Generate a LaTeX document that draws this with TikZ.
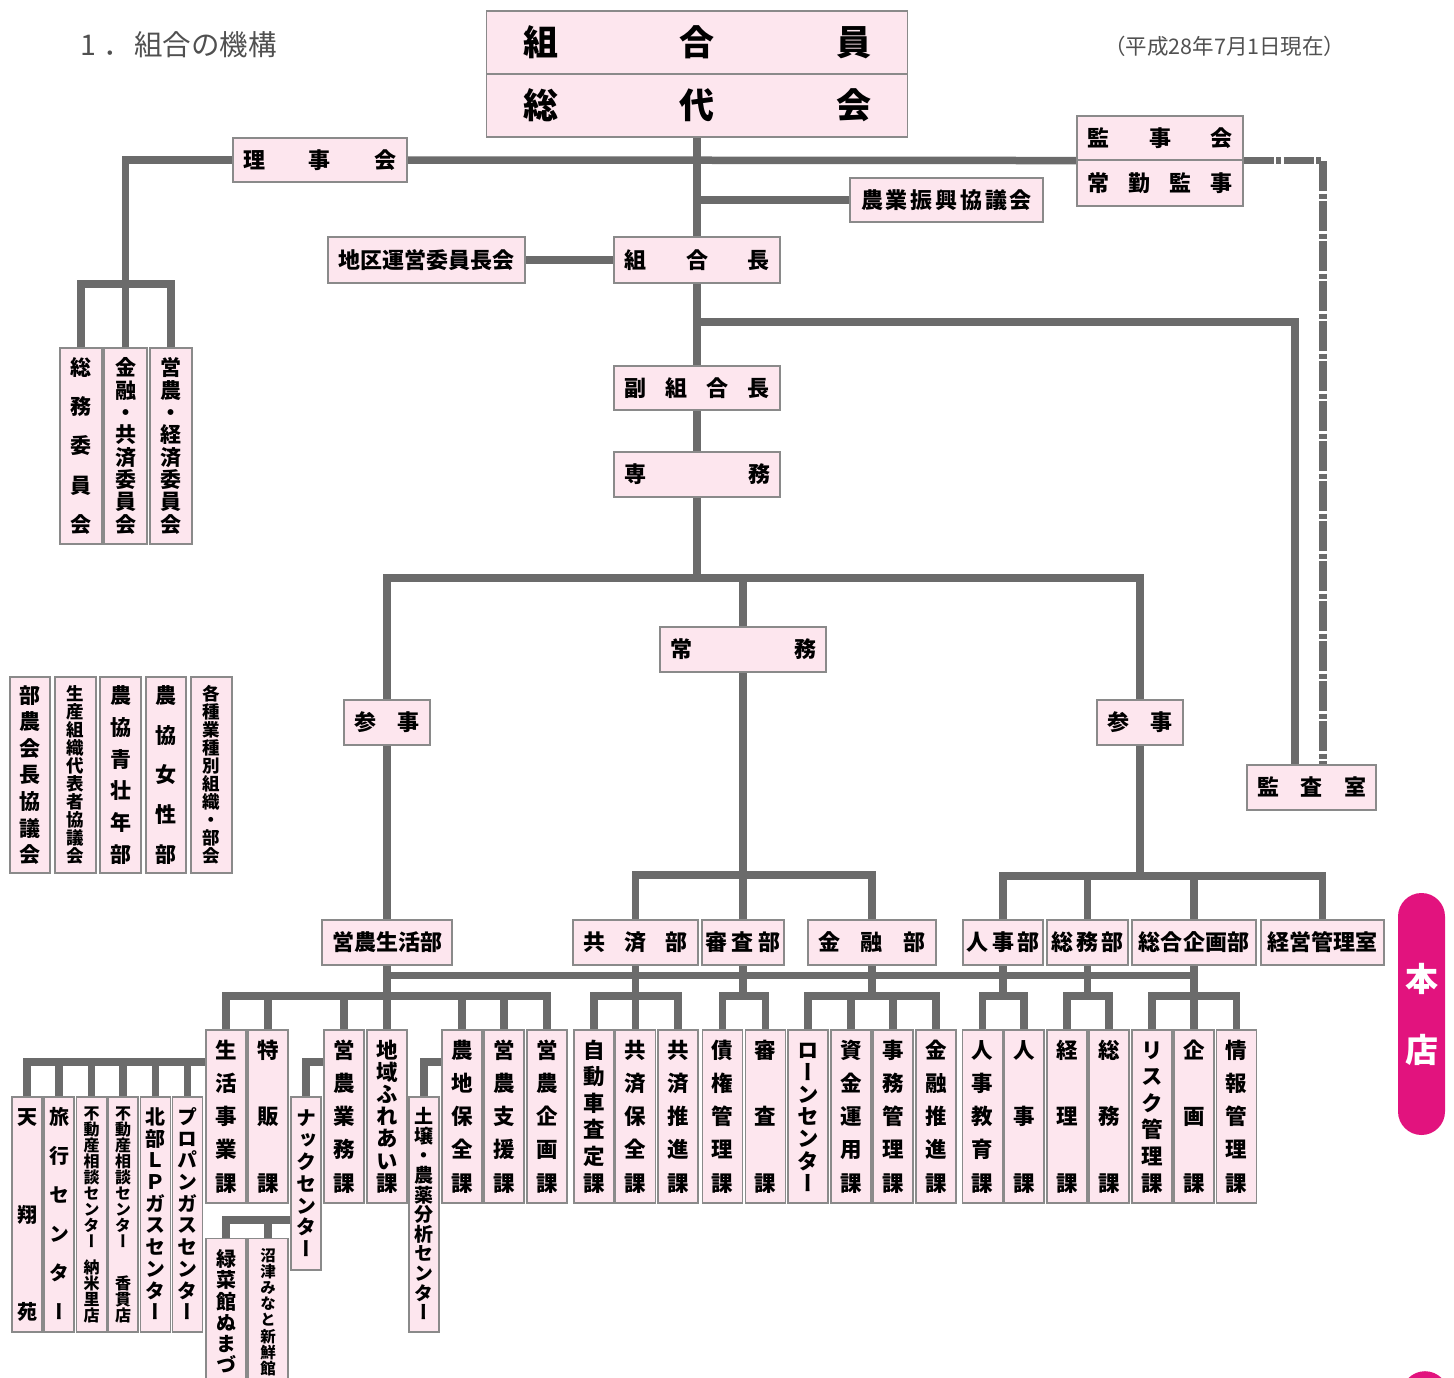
\documentclass[tikz,border=0pt]{standalone}
\usepackage{fontspec}
\setmainfont{Noto Sans CJK JP}
\newfontfamily\vcjk{Noto Sans CJK JP}[RawFeature=+vert]
\usetikzlibrary{backgrounds}

\definecolor{linegray}{HTML}{6B6B6B}
\definecolor{boxfill}{HTML}{FDE6EE}
\definecolor{boxline}{HTML}{8A8A8A}
\definecolor{honten}{HTML}{E2137E}
\definecolor{titlegray}{HTML}{505050}

\newcommand\hfont[1]{\bfseries\fontsize{#1}{#1}\selectfont}
\newcommand\vfont[1]{\vcjk\bfseries\fontsize{#1}{#1}\selectfont}

\ExplSyntaxOn
\bool_new:N \l__vt_first_bool
\cs_new:Npn \__vt_strut: { \vrule height .88em depth .12em width 0pt }
\cs_new_protected:Npn \vt_vspread:nn #1#2
  {
    \vbox to #1
      {
        \offinterlineskip
        \bool_set_true:N \l__vt_first_bool
        \tl_map_inline:nn {#2}
          {
            \bool_if:NF \l__vt_first_bool { \vfill }
            \bool_set_false:N \l__vt_first_bool
            \hbox { \__vt_strut: ##1 }
          }
      }
  }
\cs_new_protected:Npn \vt_hspread:nn #1#2
  {
    \hbox to #1
      {
        \__vt_strut:
        \bool_set_true:N \l__vt_first_bool
        \tl_map_inline:nn {#2}
          {
            \bool_if:NF \l__vt_first_bool { \hfill }
            \bool_set_false:N \l__vt_first_bool
            ##1
          }
      }
  }
\cs_generate_variant:Nn \vt_vspread:nn { no }
\cs_generate_variant:Nn \vt_hspread:nn { no }
\NewDocumentCommand \vs { m m } { \vt_vspread:no {#1} {#2} }
\NewDocumentCommand \hs { m m } { \vt_hspread:no {#1} {#2} }
\NewDocumentCommand \vstack { m }
  {
    \vbox { \offinterlineskip \tl_map_inline:nn {#1} { \hbox { \__vt_strut: ##1 } } }
  }
\ExplSyntaxOff

\begin{document}
\begin{tikzpicture}[x=1pt,y=-1pt,
  box/.style={draw=boxline,line width=1.1pt,fill=boxfill,inner sep=0pt,text=black,font=\hfont{22}},
  vbox/.style={box,font=\vfont{21}},
  pill/.style={fill=honten,rounded corners=23.5pt,inner sep=0pt,text=white,font=\hfont{33}},
  conn/.style={draw=linegray,line width=7.5pt},
  dashconn/.style={conn,dash pattern=on 30pt off 2.5pt on 5pt off 2.5pt},
  note/.style={text=titlegray,inner sep=0pt,anchor=west}]
  \useasboundingbox (0,0) rectangle (1454,1378);

  \node[note,font=\fontsize{28.5}{28.5}\selectfont] (title) at (80,45) {1\kern7pt．\kern3pt組合の機構};
  \node[note,font=\fontsize{21.5}{21.5}\selectfont] (asof) at (1104,46) {（平成28年7月1日現在）};

  % top of the organisation
  \node[box,minimum width=421,minimum height=63,font=\hfont{35}] (mem1) at (697,42.5) {\hs{348pt}{組合員}};
  \node[box,minimum width=421,minimum height=63,font=\hfont{35}] (mem2) at (697,105.5) {\hs{348pt}{総代会}};
  \node[box,minimum width=174,minimum height=44] (riji) at (320,160) {\hs{153pt}{理事会}};
  \node[box,minimum width=166,minimum height=44] (kanji1) at (1160,138) {\hs{145pt}{監事会}};
  \node[box,minimum width=166,minimum height=46] (kanji2) at (1160,183) {\hs{145pt}{常勤監事}};
  \node[box,minimum width=193,minimum height=44] (shinko) at (946.5,200) {\hs{171pt}{農業振興協議会}};
  \node[box,minimum width=197,minimum height=46] (chiku) at (426.5,260) {\hs{177pt}{地区運営委員長会}};
  \node[box,minimum width=166,minimum height=46] (kumiaicho) at (697,260) {\hs{146pt}{組合長}};
  \node[box,minimum width=166,minimum height=44] (fuku) at (697,388) {\hs{146pt}{副組合長}};
  \node[box,minimum width=166,minimum height=45] (senmu) at (697,474.5) {\hs{146pt}{専務}};
  \node[box,minimum width=166,minimum height=45] (jomu) at (743,649.5) {\hs{146pt}{常務}};
  \node[box,minimum width=86,minimum height=45] (sanji1) at (387,722.5) {\hs{65pt}{参事}};
  \node[box,minimum width=86,minimum height=45] (sanji2) at (1140,722.5) {\hs{65pt}{参事}};
  \node[box,minimum width=129,minimum height=45] (kansa) at (1311.5,787.5) {\hs{109pt}{監査室}};

  % committees and groups
  \node[vbox,minimum width=42,minimum height=196] (c1) at (81,446) {\vs{175pt}{総務委員会}};
  \node[vbox,minimum width=43,minimum height=196] (c2) at (125.5,446) {\vs{175pt}{金融・共済委員会}};
  \node[vbox,minimum width=42,minimum height=196] (c3) at (171,446) {\vs{175pt}{営農・経済委員会}};
  \node[vbox,minimum width=40,minimum height=196] (o1) at (30,775) {\vs{178pt}{部農会長協議会}};
  \node[vbox,minimum width=41,minimum height=196,font=\vfont{17.5}] (o2) at (75.5,775) {\vs{178pt}{生産組織代表者協議会}};
  \node[vbox,minimum width=41,minimum height=196] (o3) at (120.5,775) {\vs{178pt}{農協青壮年部}};
  \node[vbox,minimum width=40,minimum height=196] (o4) at (166,775) {\vs{178pt}{農協女性部}};
  \node[vbox,minimum width=41,minimum height=196,font=\vfont{17.5}] (o5) at (211.5,775) {\vs{178pt}{各種業種別組織・部会}};

  % departments
  \foreach \n/\x/\w/\s/\t in {einou/387/130/110/営農生活部, kyosai/635.5/125/104/共済部,
      shinsa/743/82/75/審査部, kinyu/872/128/107/金融部, jinji/1003/80/73/人事部,
      somu/1087.5/81/72/総務部, sogo/1194/124/112/総合企画部, keiei/1322.5/123/110/経営管理室}
    \node[box,minimum width=\w,minimum height=45] (\n) at (\x,942.5) {\hs{\s pt}{\t}};

  % sections
  \foreach \n/\x/\t in {seikatsu/226/生活事業課, tokuhan/268/特販課, gyomu/344/営農業務課,
      fureai/387/地域ふれあい課, nochi/462/農地保全課, shien/504/営農支援課, kikaku/547/営農企画課,
      jidosha/594/自動車査定課, kyhozen/635.5/共済保全課, kysuishin/678/共済推進課,
      saiken/722.5/債権管理課, shinsaka/765.5/審査課, loan/808/ローンセンター,
      shikin/851/資金運用課, jimu/893/事務管理課, kinsuishin/936/金融推進課,
      jkyoiku/982.5/人事教育課, jinjika/1024/人事課, keiri/1067/経理課, somuka/1109/総務課,
      risk/1152/リスク管理課, kikakuka/1194/企画課, joho/1236.5/情報管理課}
    \node[vbox,minimum width=40,minimum height=173,font=\vfont{21.5}] (\n) at (\x,1116.5) {\vs{152pt}{\t}};

  % offices under the sections
  \foreach \n/\x/\t in {tenshoen/27/天翔苑, ryoko/59/旅行センター,
      hokubu/155.5/北部ＬＰガスセンター, propan/187.5/プロパンガスセンター}
    \node[vbox,minimum width=30,minimum height=235,font=\vfont{20}] (\n) at (\x,1214.5) {\vs{213pt}{\t}};
  \node[vbox,minimum width=30,minimum height=235,font=\vfont{16}] (nanbei) at (91.5,1214.5)
    {\vbox to 216pt{\vstack{不動産相談センター}\vfill\vstack{納米里店}}};
  \node[vbox,minimum width=30,minimum height=235,font=\vfont{16}] (kanuki) at (123,1214.5)
    {\vbox to 216pt{\vstack{不動産相談センター}\vfill\vstack{香貫店}}};
  \node[vbox,minimum width=30,minimum height=235,font=\vfont{19}] (dojo) at (424,1214.5) {\vs{213pt}{土壌・農薬分析センター}};
  \node[vbox,minimum width=30,minimum height=173,font=\vfont{20}] (nack) at (306,1183.5) {\vs{149pt}{ナックセンター}};
  \node[vbox,minimum width=40,minimum height=147,anchor=north,font=\vfont{20}] (ryokusai) at (226,1238) {\vs{124pt}{緑菜館ぬまづ}};
  \node[vbox,minimum width=40,minimum height=147,anchor=north,font=\vfont{15.5}] (numazu) at (268,1238) {\vs{126pt}{沼津みなと新鮮館}};

  \node[pill,minimum width=47,minimum height=242] (honten) at (1421.5,1014) {\vs{100pt}{本店}};
  \node[pill,minimum width=47,minimum height=60,anchor=north] (shiten) at (1425,1371) {};

  \coordinate (ctop) at (126,284);
  \coordinate (kdash) at (1323,765);
  \coordinate (kbr) at (697,322);
  \coordinate (kbl) at (1295,765);
  \coordinate (jb) at (697,578);
  \coordinate (mb) at (743,875);
  \coordinate (rb) at (1140,876);
  \coordinate (brk) at (0,996);
  \coordinate (sub) at (0,1062);
  \coordinate (nb) at (0,1220);

  \begin{scope}[on background layer]
    % main line
    \draw[conn] (mem2.south) -- (kumiaicho.north);
    \draw[conn] (kumiaicho.south) -- (fuku.north);
    \draw[conn] (fuku.south) -- (senmu.north);
    \draw[conn] (senmu.south) -- (jb);
    \draw[conn] (c2.north) |- (riji.west);
    \draw[conn] (c1.north) |- (ctop) -| (c3.north);
    \draw[conn] (riji.east) -- (kanji1.south west);
    \draw[dashconn] (kanji1.south east) -| (kdash);
    \draw[conn] (shinko.west) -- (shinko.west -| mem2.south);
    \draw[conn] (chiku.east) -- (kumiaicho.west);
    \draw[conn] (kbr) -| (kbl);
    \draw[conn] (sanji1.north) |- (jb) -| (sanji2.north);
    \draw[conn] (jomu.north) -- (jomu.north |- jb);
    % departments
    \draw[conn] (sanji1.south) -- (einou.north);
    \draw[conn] (jomu.south) -- (shinsa.north);
    \draw[conn] (kyosai.north) |- (mb) -| (kinyu.north);
    \draw[conn] (sanji2.south) -- (rb);
    \draw[conn] (jinji.north) |- (rb) -| (keiei.north);
    \draw[conn] (somu.north) -- (somu.north |- rb);
    \draw[conn] (sogo.north) -- (sogo.north |- rb);
    \draw[conn] ([yshift=-10pt]einou.south) -- ([yshift=-10pt]einou.south -| sogo.south);
    % sections
    \foreach \d/\a/\b in {einou/seikatsu/kikaku, kyosai/jidosha/kysuishin, shinsa/saiken/shinsaka,
        kinyu/loan/kinsuishin, jinji/jkyoiku/jinjika, somu/keiri/somuka, sogo/risk/joho}
      \draw[conn] (\a.north) |- (\d.south |- brk) -| (\b.north) (\d.south) -- (\d.south |- brk);
    \foreach \n in {tokuhan,gyomu,fureai,nochi,shien,kyhozen,shikin,jimu,kikakuka}
      \draw[conn] (\n.north) -- (\n.north |- brk);
    % offices
    \draw[conn] (tenshoen.north) |- (seikatsu.west |- sub);
    \foreach \n in {ryoko,nanbei,kanuki,hokubu,propan}
      \draw[conn] (\n.north) -- (\n.north |- sub);
    \draw[conn] (nack.north) |- (gyomu.west |- sub);
    \draw[conn] (dojo.north) |- (nochi.west |- sub);
    \draw[conn] (ryokusai.north) |- (nack.west |- nb);
    \draw[conn] (numazu.north) -- (numazu.north |- nb);
  \end{scope}
\end{tikzpicture}
\end{document}
